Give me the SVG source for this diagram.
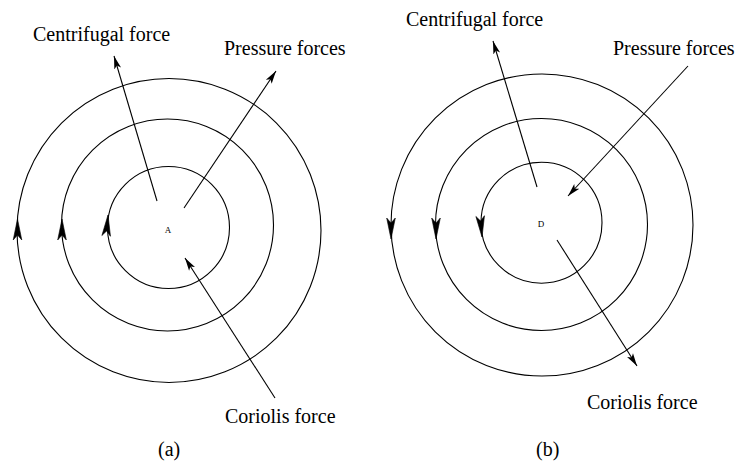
<svg xmlns="http://www.w3.org/2000/svg" xmlns:xlink="http://www.w3.org/1999/xlink" width="736" height="466" viewBox="0 0 736 466">
<style>
.ring{fill:none;stroke:#000;stroke-width:1.1}
.arr{fill:none;stroke:#000;stroke-width:1.1;marker-end:url(#ah)}
.lbl{font-family:"Liberation Serif","Times New Roman",serif;font-size:20px;fill:#000}
.ctr{font-family:"Liberation Serif","Times New Roman",serif;font-size:9px;fill:#000;text-anchor:middle}
.head{fill:#000;stroke:#000;stroke-width:0.6}
</style>
<defs>
<marker id="ah" markerUnits="userSpaceOnUse" markerWidth="14" markerHeight="10" viewBox="0 0 14 10" refX="13" refY="5" orient="auto">
<path d="M0,1.5 L13,5 L0,8.5 L3,5 Z" fill="#000"/>
</marker>
<path id="bighead" d="M0,0 L4.3,21 L0,16 L-4.3,21 Z"/>
</defs>
<rect width="736" height="466" fill="#fff"/>
<g id="panel-a">
<g id="rings-a">
<circle class="ring" cx="169" cy="230.5" r="152"/>
<circle class="ring" cx="167.5" cy="225" r="106"/>
<circle class="ring" cx="168.5" cy="227.5" r="61"/>
<use class="head" xlink:href="#bighead" href="#bighead" transform="translate(17.5,219)"/>
<use class="head" xlink:href="#bighead" href="#bighead" transform="translate(62,219)"/>
<use class="head" xlink:href="#bighead" href="#bighead" transform="translate(108,215) rotate(5)"/>
</g>
<g id="node-A"><text class="ctr" x="168" y="233">A</text></g>
<g id="label-a-centrifugal"><text class="lbl" x="33" y="41">Centrifugal force</text></g>
<g id="label-a-pressure"><text class="lbl" x="224" y="55">Pressure forces</text></g>
<g id="label-a-coriolis"><text class="lbl" x="225" y="423">Coriolis force</text></g>
<g id="caption-a"><text class="lbl" x="158" y="456">(a)</text></g>
</g>
<g id="panel-b">
<g id="rings-b">
<circle class="ring" cx="542" cy="225" r="151"/>
<circle class="ring" cx="541.5" cy="224.5" r="106"/>
<circle class="ring" cx="541.5" cy="222.7" r="60.5"/>
<use class="head" xlink:href="#bighead" href="#bighead" transform="translate(391,239) rotate(180)"/>
<use class="head" xlink:href="#bighead" href="#bighead" transform="translate(436,239) rotate(180)"/>
<use class="head" xlink:href="#bighead" href="#bighead" transform="translate(482,237) rotate(175)"/>
</g>
<g id="node-D"><text class="ctr" x="541" y="227">D</text></g>
<g id="label-b-centrifugal"><text class="lbl" x="406" y="26">Centrifugal force</text></g>
<g id="label-b-pressure"><text class="lbl" x="613" y="55">Pressure forces</text></g>
<g id="label-b-coriolis"><text class="lbl" x="587" y="409">Coriolis force</text></g>
<g id="caption-b"><text class="lbl" x="536" y="456">(b)</text></g>
</g>
<g id="connectors">
<line class="arr" x1="157" y1="201" x2="114" y2="56"/>
<line class="arr" x1="184" y1="208" x2="276" y2="71"/>
<line class="arr" x1="275" y1="398" x2="185" y2="258"/>
<line class="arr" x1="537" y1="187" x2="493" y2="41"/>
<line class="arr" x1="688" y1="66" x2="568" y2="196"/>
<line class="arr" x1="557" y1="240" x2="637" y2="366"/>
</g>
</svg>
